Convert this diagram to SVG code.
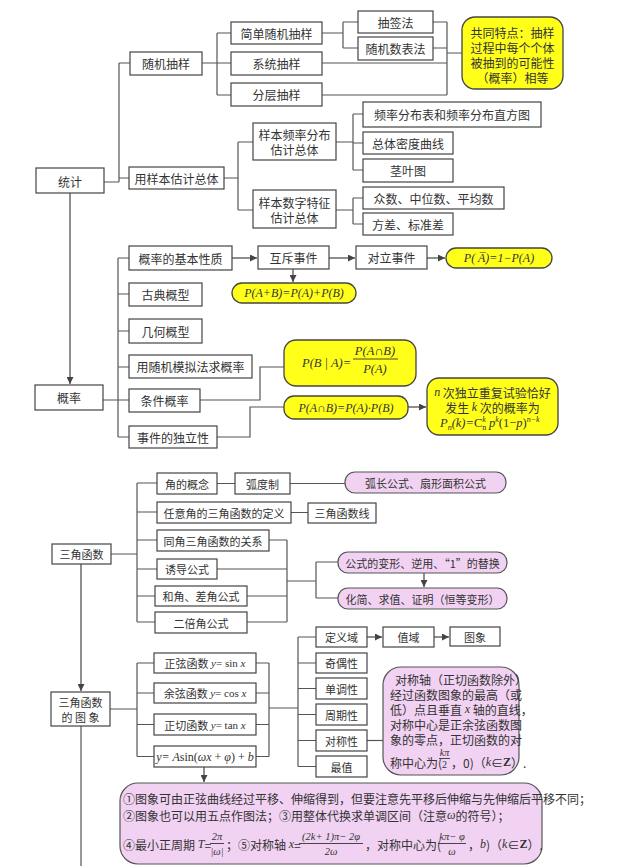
<svg xmlns="http://www.w3.org/2000/svg" width="640" height="866" viewBox="0 0 640 866">
<defs>
<marker id="ah" markerWidth="7" markerHeight="7" refX="7" refY="3.5" orient="auto" markerUnits="userSpaceOnUse">
<path d="M0,0 L7,3.5 L0,7 z" fill="#444"/>
</marker>
<style>
.b{fill:#fff;stroke:#444;stroke-width:1.2}
.y{fill:#ffff1a;stroke:#444;stroke-width:1.3}
.p{fill:#f1d2f2;stroke:#555;stroke-width:1.2}
.t{font-family:"Noto Sans CJK SC","Noto Sans",sans-serif;font-size:12px;fill:#333;text-anchor:middle;dominant-baseline:central}
.s{font-size:11px}
.l{text-anchor:start}
.m{font-family:"Liberation Serif",serif;font-style:italic}
.mn{font-family:"Liberation Serif",serif;font-style:normal}
.c{fill:none;stroke:#555;stroke-width:1.2}
.a{fill:none;stroke:#444;stroke-width:1.2;marker-end:url(#ah)}
.bar{stroke:#333;stroke-width:0.9}
</style>
</defs>
<rect width="640" height="866" fill="#fff"/>

<g id="connectors">
<path class="c" d="M104,182 H119 M119,63 V182 M119,63 H130 M119,178 H129"/>
<path class="c" d="M202,63 H217 M217,33 V95 M217,33 H231 M217,63 H231 M217,95 H231"/>
<path class="c" d="M322,33 H343 M343,22 V48 M343,22 H358 M343,48 H358"/>
<path class="c" d="M433,22 H447 M433,48 H447 M322,63 H447 M322,95 H447 M447,22 V95 M447,53 H462"/>
<path class="c" d="M224,178 H238 M238,142 V210 M238,142 H253 M238,210 H253"/>
<path class="c" d="M336,142 H353 M353,114 V170 M353,114 H363 M353,143 H363 M353,170 H363"/>
<path class="c" d="M336,210 H353 M353,198 V224 M353,198 H363 M353,224 H363"/>
<path class="a" d="M70,193 V384"/>
<path class="c" d="M103,400 H118 M118,258 V437 M118,258 H129 M118,294 H129 M118,331 H129 M118,367 H129 M118,400 H129 M118,437 H129"/>
<path class="a" d="M232,258 H257"/>
<path class="a" d="M329,258 H355"/>
<path class="a" d="M427,258 H445"/>
<path class="a" d="M293,269 V282"/>
<path class="c" d="M200,400 H260 V367 H284"/>
<path class="c" d="M217,437 H250 V407 H284"/>
<path class="a" d="M408,407 H426"/>
<path class="c" d="M111,554 H137 M137,483 V622 M137,483 H157 M137,512 H157 M137,540 H157 M137,569 H157 M137,596 H155 M137,622 H155"/>
<path class="c" d="M217,483.5 H235 M290,483.5 H345 M291,512.5 H308"/>
<path class="c" d="M269,540 H287 M217,569 H287 M247,596 H287 M247,622 H287 M287,540 V622 M287,581 H316 M316,562 V598 M316,562 H338 M316,598 H338"/>
<path class="a" d="M424,573 V587"/>
<path class="a" d="M81,564 V691"/>
<path class="c" d="M81,726 V866"/>
<path class="c" d="M110,709 H137 M137,663 V756.5 M137,663 H154 M137,693 H154 M137,724.5 H154 M137,756.5 H154"/>
<path class="c" d="M256,663 H269 M256,693 H269 M256,724.5 H269 M256,756.5 H269 M269,663 V756.5 M269,708 H298"/>
<path class="c" d="M298,637 V766.5 M298,637 H316 M298,663 H316 M298,688.5 H316 M298,714.5 H316 M298,740.5 H316 M298,766.5 H316"/>
<path class="a" d="M367,637 H382"/>
<path class="a" d="M434,637 H449"/>
<path class="c" d="M367,740.5 H383"/>
<path class="a" d="M204,767 V782"/>
</g>

<g id="n_tongji"><rect class="b" x="36" y="168" width="68" height="25"/><text class="t" x="70" y="181">统计</text></g>
<g id="n_suiji"><rect class="b" x="130" y="52" width="72" height="23"/><text class="t" x="166" y="63.5">随机抽样</text></g>
<g id="n_jiandan"><rect class="b" x="231" y="22" width="91" height="22"/><text class="t" x="276.5" y="33">简单随机抽样</text></g>
<g id="n_xitong"><rect class="b" x="231" y="52" width="91" height="23"/><text class="t" x="276.5" y="63.5">系统抽样</text></g>
<g id="n_fenceng"><rect class="b" x="231" y="83" width="91" height="23"/><text class="t" x="276.5" y="94.5">分层抽样</text></g>
<g id="n_chouqian"><rect class="b" x="358" y="11" width="75" height="22"/><text class="t" x="395.5" y="22">抽签法</text></g>
<g id="n_suijishu"><rect class="b" x="358" y="37" width="75" height="23"/><text class="t" x="395.5" y="48.5">随机数表法</text></g>
<g id="n_gongtong"><rect class="y" x="462" y="17" width="101" height="72" rx="13"/>
<text class="t" x="512.5" y="32">共同特点：抽样</text>
<text class="t" x="512.5" y="47">过程中每个个体</text>
<text class="t" x="512.5" y="62">被抽到的可能性</text>
<text class="t" x="512.5" y="77">（概率）相等</text></g>
<g id="n_yangben"><rect class="b" x="129" y="167" width="95" height="22"/><text class="t" x="176.5" y="178">用样本估计总体</text></g>
<g id="n_pinlv"><rect class="b" x="253" y="123" width="83" height="37"/><text class="t" x="294.5" y="134.5">样本频率分布</text><text class="t" x="294.5" y="149.5">估计总体</text></g>
<g id="n_shuzi"><rect class="b" x="253" y="190" width="83" height="38"/><text class="t" x="294.5" y="202">样本数字特征</text><text class="t" x="294.5" y="217">估计总体</text></g>
<g id="n_zhifang"><rect class="b" x="363" y="102" width="178" height="25"/><text class="t" x="452" y="114.5">频率分布表和频率分布直方图</text></g>
<g id="n_midu"><rect class="b" x="363" y="132" width="90" height="22"/><text class="t" x="408" y="143">总体密度曲线</text></g>
<g id="n_jingye"><rect class="b" x="363" y="159" width="90" height="23"/><text class="t" x="408" y="170.5">茎叶图</text></g>
<g id="n_zhongshu"><rect class="b" x="363" y="187" width="141" height="22"/><text class="t" x="433.5" y="198">众数、中位数、平均数</text></g>
<g id="n_fangcha"><rect class="b" x="363" y="213" width="90" height="22"/><text class="t" x="408" y="224">方差、标准差</text></g>

<g id="n_gailv"><rect class="b" x="35" y="385" width="68" height="25"/><text class="t" x="69" y="397.5">概率</text></g>
<g id="n_jiben"><rect class="b" x="129" y="246" width="103" height="24"/><text class="t" x="180.5" y="258">概率的基本性质</text></g>
<g id="n_gudian"><rect class="b" x="129" y="283" width="73" height="23"/><text class="t" x="165.5" y="294.5">古典概型</text></g>
<g id="n_jihe"><rect class="b" x="129" y="319" width="73" height="24"/><text class="t" x="165.5" y="331">几何概型</text></g>
<g id="n_moni"><rect class="b" x="129" y="355" width="123" height="23"/><text class="t" x="190.5" y="366.5">用随机模拟法求概率</text></g>
<g id="n_tiaojian"><rect class="b" x="129" y="389" width="71" height="23"/><text class="t" x="164.5" y="400.5">条件概率</text></g>
<g id="n_duli"><rect class="b" x="129" y="426" width="88" height="22"/><text class="t" x="173" y="437">事件的独立性</text></g>
<g id="n_huchi"><rect class="b" x="258" y="246" width="71" height="23"/><text class="t" x="293.5" y="257.5">互斥事件</text></g>
<g id="n_duili"><rect class="b" x="356" y="246" width="71" height="23"/><text class="t" x="391.5" y="257.5">对立事件</text></g>
<g id="n_pbar"><rect class="y" x="446" y="248" width="106" height="20" rx="10"/><text class="t m" x="499" y="258" font-size="12.5">P( A̅)=1−P(A)</text></g>
<g id="n_pab"><rect class="y" x="232" y="283" width="124" height="20" rx="10"/><text class="t m" x="294" y="293" font-size="12.5">P(A+B)=P(A)+P(B)</text></g>
<g id="n_pcond"><rect class="y" x="284" y="340" width="132" height="46" rx="12"/>
<text class="m" x="302" y="367" font-size="12.5" fill="#333">P(B | A)=</text>
<text class="m" x="375" y="355" font-size="12.5" fill="#333" text-anchor="middle">P(A∩B)</text>
<line class="bar" x1="353" y1="359" x2="398" y2="359"/>
<text class="m" x="375" y="373" font-size="12.5" fill="#333" text-anchor="middle">P(A)</text></g>
<g id="n_pind"><rect class="y" x="284" y="396" width="124" height="23" rx="10"/><text class="t m" x="346" y="407.5" font-size="12.5">P(A∩B)=P(A)·P(B)</text></g>
<g id="n_bern"><rect class="y" x="427" y="378" width="131" height="57" rx="12"/>
<text class="t" x="492.5" y="392"><tspan class="m">n</tspan> 次独立重复试验恰好</text>
<text class="t" x="492.5" y="407">发生 <tspan class="m">k</tspan> 次的概率为</text>
<text class="m" x="440" y="427" font-size="12.5" fill="#333">P<tspan dy="3" font-size="8">n</tspan><tspan dy="-3">(k)=</tspan><tspan class="mn">C</tspan><tspan dy="3" font-size="8" class="mn">n</tspan><tspan dx="-4" dy="-8" font-size="8">k</tspan><tspan dy="5"> p</tspan><tspan dy="-5" font-size="8">k</tspan><tspan dy="5" class="mn">(1−</tspan><tspan>p</tspan><tspan class="mn">)</tspan><tspan dy="-5" font-size="8">n−k</tspan></text></g>

<g id="n_sanjiao"><rect class="b" x="52" y="544" width="59" height="20"/><text class="t s" x="81.5" y="554">三角函数</text></g>
<g id="n_jiao"><rect class="b" x="157" y="473" width="60" height="21"/><text class="t s" x="187" y="483.5">角的概念</text></g>
<g id="n_hudu"><rect class="b" x="235" y="473" width="55" height="21"/><text class="t s" x="262.5" y="483.5">弧度制</text></g>
<g id="n_huchang"><rect class="p" x="345" y="472" width="161" height="21" rx="10"/><text class="t s" x="425.5" y="482.5">弧长公式、扇形面积公式</text></g>
<g id="n_renyi"><rect class="b" x="157" y="502" width="134" height="21"/><text class="t s" x="224" y="512.5">任意角的三角函数的定义</text></g>
<g id="n_sjhsx"><rect class="b" x="308" y="503" width="68" height="20"/><text class="t s" x="342" y="513">三角函数线</text></g>
<g id="n_tongjiao"><rect class="b" x="157" y="530" width="112" height="21"/><text class="t s" x="213" y="540.5">同角三角函数的关系</text></g>
<g id="n_youdao"><rect class="b" x="157" y="559" width="60" height="20"/><text class="t s" x="187" y="569">诱导公式</text></g>
<g id="n_hejiao"><rect class="b" x="155" y="586" width="92" height="20"/><text class="t s" x="201" y="596">和角、差角公式</text></g>
<g id="n_beijiao"><rect class="b" x="155" y="612" width="92" height="21"/><text class="t s" x="201" y="622.5">二倍角公式</text></g>
<g id="n_bianxing"><rect class="p" x="338" y="552" width="169" height="21" rx="10"/><text class="t s" x="422.5" y="562.5">公式的变形、逆用、“1”的替换</text></g>
<g id="n_huajian"><rect class="p" x="338" y="588" width="169" height="21" rx="10"/><text class="t s" x="422.5" y="598.5">化简、求值、证明（恒等变形）</text></g>

<g id="n_tuxiang"><rect class="b" x="51" y="692" width="59" height="34"/><text class="t s" x="80.5" y="702">三角函数</text><text class="t s" x="80.5" y="717">的 图 象</text></g>
<g id="n_sin"><rect class="b" x="154" y="653" width="102" height="20"/><text class="t s" x="205" y="663">正弦函数 <tspan class="m">y</tspan><tspan class="mn">= sin </tspan><tspan class="m">x</tspan></text></g>
<g id="n_cos"><rect class="b" x="154" y="683" width="102" height="20"/><text class="t s" x="205" y="693">余弦函数 <tspan class="m">y</tspan><tspan class="mn">= cos </tspan><tspan class="m">x</tspan></text></g>
<g id="n_tan"><rect class="b" x="154" y="714" width="102" height="21"/><text class="t s" x="205" y="724.5">正切函数 <tspan class="m">y</tspan><tspan class="mn">= tan </tspan><tspan class="m">x</tspan></text></g>
<g id="n_asin"><rect class="b" x="154" y="746" width="102" height="21"/><text class="t m" x="205" y="756.5" font-size="12">y= A<tspan class="mn">sin(</tspan>ωx<tspan class="mn"> + </tspan>φ<tspan class="mn">) + </tspan>b</text></g>
<g id="n_dingyi"><rect class="b" x="316" y="627" width="51" height="20"/><text class="t s" x="341.5" y="637">定义域</text></g>
<g id="n_zhiyu"><rect class="b" x="383" y="627" width="51" height="20"/><text class="t s" x="408.5" y="637">值域</text></g>
<g id="n_tx"><rect class="b" x="450" y="627" width="50" height="19"/><text class="t s" x="475" y="636.5">图象</text></g>
<g id="n_jiou"><rect class="b" x="316" y="653" width="51" height="20"/><text class="t s" x="341.5" y="663">奇偶性</text></g>
<g id="n_dandiao"><rect class="b" x="316" y="678" width="51" height="21"/><text class="t s" x="341.5" y="688.5">单调性</text></g>
<g id="n_zhouqi"><rect class="b" x="316" y="704" width="51" height="21"/><text class="t s" x="341.5" y="714.5">周期性</text></g>
<g id="n_duichenxing"><rect class="b" x="316" y="730" width="51" height="21"/><text class="t s" x="341.5" y="740.5">对称性</text></g>
<g id="n_zuizhi"><rect class="b" x="316" y="756" width="51" height="21"/><text class="t s" x="341.5" y="766.5">最值</text></g>
<g id="n_duichen"><rect class="p" x="383" y="667" width="136" height="108" rx="18"/>
<text class="t l" x="395" y="679" font-size="10.5">对称轴（正切函数除外）</text>
<text class="t l" x="390" y="694.2" font-size="10.5">经过函数图象的最高（或</text>
<text class="t l" x="390" y="709.4" font-size="10.5">低）点且垂直 <tspan class="m">x</tspan> 轴的直线，</text>
<text class="t l" x="390" y="724.6" font-size="10.5">对称中心是正余弦函数图</text>
<text class="t l" x="390" y="739.8" font-size="10.5">象的零点，正切函数的对</text>
<text class="t l" x="390" y="762" font-size="10.5">称中心为(</text>
<text class="m" x="444.5" y="756" font-size="10" fill="#333" text-anchor="middle">kπ</text>
<line class="bar" x1="439" y1="758.5" x2="450" y2="758.5"/>
<text class="mn" x="444.5" y="768" font-size="10" fill="#333" text-anchor="middle">2</text>
<text class="t l" x="451" y="762" font-size="10.5">，0)（<tspan class="m">k</tspan>∈<tspan font-weight="bold" class="mn">Z</tspan>）.</text></g>

<g id="n_big"><rect class="p" x="120" y="783" width="422" height="81" rx="18"/>
<text class="t l" x="123" y="798" font-size="11">①图象可由正弦曲线经过平移、伸缩得到，但要注意先平移后伸缩与先伸缩后平移不同；</text>
<text class="t l" x="123" y="815" font-size="11">②图象也可以用五点作图法；③用整体代换求单调区间（注意<tspan class="m">ω</tspan>的符号）；</text>
<text class="t l" x="123" y="844" font-size="11">④最小正周期 <tspan class="m">T</tspan>=</text>
<text class="m" x="217" y="840" font-size="10.5" fill="#333" text-anchor="middle">2π</text>
<line class="bar" x1="210" y1="843.5" x2="224" y2="843.5"/>
<text class="m" x="217" y="855" font-size="10.5" fill="#333" text-anchor="middle">|ω|</text>
<text class="t l" x="226" y="844" font-size="11">；⑤对称轴 <tspan class="m">x</tspan>=</text>
<text class="m" x="331" y="840" font-size="10.5" fill="#333" text-anchor="middle">(2k+ 1)π− 2φ</text>
<line class="bar" x1="299" y1="843.5" x2="363" y2="843.5"/>
<text class="m" x="331" y="855" font-size="10.5" fill="#333" text-anchor="middle">2ω</text>
<text class="t l" x="365" y="844" font-size="11">，对称中心为(</text>
<text class="m" x="452" y="840" font-size="10.5" fill="#333" text-anchor="middle">kπ− φ</text>
<line class="bar" x1="438" y1="843.5" x2="466" y2="843.5"/>
<text class="m" x="452" y="855" font-size="10.5" fill="#333" text-anchor="middle">ω</text>
<text class="t l" x="468" y="844" font-size="11">，<tspan class="m">b</tspan>)（<tspan class="m">k</tspan>∈<tspan font-weight="bold" class="mn">Z</tspan>）.</text></g>
</svg>
